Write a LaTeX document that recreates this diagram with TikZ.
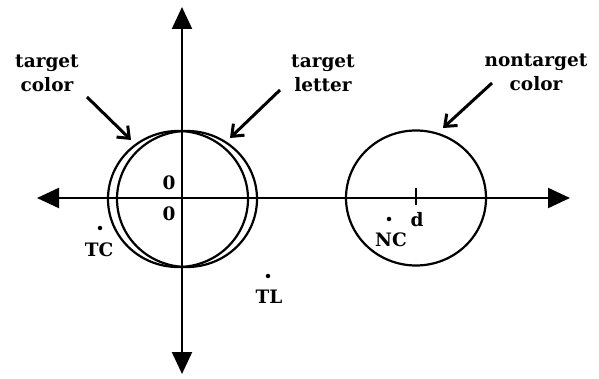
\documentclass[tikz,border=0pt]{standalone}
\usepackage{fontspec}
\setmainfont{DejaVu Serif}
\usetikzlibrary{arrows.meta,shapes.geometric}
\begin{document}
\begin{tikzpicture}[x=1pt,y=-1pt,
  lbl/.style={font=\fontsize{18.5}{24}\selectfont\bfseries, inner sep=0pt, align=center},
  axisline/.style={line width=2.2pt, {Triangle[length=22pt,width=20pt]}-{Triangle[length=22pt,width=20pt]}},
  ring/.style={draw, ellipse, line width=2.2pt, minimum width=140pt, minimum height=136pt, inner sep=0pt},
  pointer/.style={line width=3pt, -{Straight Barb[length=10pt,width=16pt]}},
  spot/.style={circle, fill, inner sep=0pt, minimum size=4.5pt},
]
\useasboundingbox (0,0) rectangle (599,379);
% axes
\coordinate (xl) at (37,198);
\coordinate (xr) at (570,198);
\coordinate (yt) at (182,7);
\coordinate (yb) at (182,374);
\draw[axisline] (xl) -- (xr);
\draw[axisline] (yt) -- (yb);
% circles
\node[ring] (tcol) at (178,199) {};
\node[ring] (tlet) at (187,199) {};
\node[ring, minimum height=135pt] (ncol) at (416,198) {};
% tick at d
\coordinate (dtop) at (416,188);
\coordinate (dbot) at (416,205);
\draw[line width=2.2pt] (dtop) -- (dbot);
% labels
\node[lbl] (l1) at (47,73) {target\\color};
\node[lbl] (l2) at (323,73) {target\\letter};
\node[lbl] (l3) at (536,72) {nontarget\\color};
\coordinate (a1s) at (87,97);
\coordinate (a1e) at (131,140);
\coordinate (a2s) at (280,90);
\coordinate (a2e) at (230,138);
\coordinate (a3s) at (492,83);
\coordinate (a3e) at (443,128);
\draw[pointer] (a1s) -- (a1e);
\draw[pointer] (a2s) -- (a2e);
\draw[pointer] (a3s) -- (a3e);
% zeros
\node[lbl] (z1) at (169,183) {0};
\node[lbl] (z2) at (169,214) {0};
% points
\node[spot] (tc) at (100,228) {};
\node[lbl] (tct) at (99,250) {TC};
\node[spot] (tl) at (268,276) {};
\node[lbl] (tlt) at (269,297) {TL};
\node[spot] (nc) at (389,219) {};
\node[lbl] (nct) at (391,240) {NC};
\node[lbl] (dl) at (417,220) {d};
\end{tikzpicture}
\end{document}
